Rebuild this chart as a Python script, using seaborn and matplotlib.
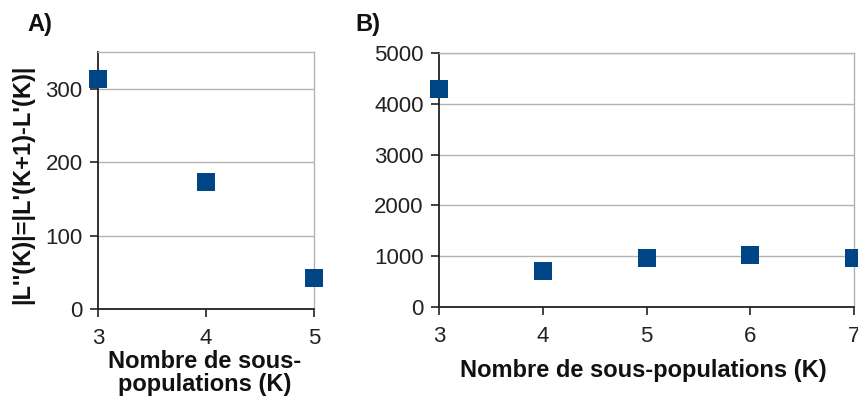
import matplotlib
matplotlib.use("Agg")
import matplotlib.pyplot as plt
import seaborn as sns
import pandas as pd

# Panel A: second-order difference of the log-likelihood
k_a = [3, 4, 5]
delta_a = [313, 173, 42]

# Panel B: delta K statistic
k_b = [3, 4, 5, 6, 7]
delta_b = [4300, 713, 955, 1022, 955]

blue = "#004586"
grid_grey = "#b3b3b3"

sns.set_theme(style="white")
plt.rcParams["font.family"] = ["Liberation Sans", "DejaVu Sans"]

fig = plt.figure(figsize=(8.58, 3.96), dpi=100)
ax_a = fig.add_axes([98 / 858, 1 - 309 / 396, (314 - 98) / 858, (309 - 52) / 396])
ax_b = fig.add_axes([439 / 858, 1 - 307 / 396, (854 - 439) / 858, (307 - 53) / 396])

df_a = pd.DataFrame({"K": k_a, "val": delta_a})
df_b = pd.DataFrame({"K": k_b, "val": delta_b})

for ax, df in ((ax_a, df_a), (ax_b, df_b)):
    sns.scatterplot(data=df, x="K", y="val", ax=ax, marker="s", s=150,
                    color=blue, linewidth=0, clip_on=False, zorder=5)
    ax.set_xlabel("")
    ax.set_ylabel("")
    ax.yaxis.grid(True, color=grid_grey, linewidth=1)
    ax.set_axisbelow(True)
    for side in ("top", "right"):
        ax.spines[side].set_color(grid_grey)
        ax.spines[side].set_linewidth(1)
    for side in ("left", "bottom"):
        ax.spines[side].set_color("#222222")
        ax.spines[side].set_linewidth(1.3)
    ax.tick_params(axis="both", which="both", direction="out", length=6,
                   width=1.2, color="#222222", labelsize=16, labelcolor="#222222",
                   bottom=True, left=True)
    ax.tick_params(axis="x", pad=8)
    ax.tick_params(axis="y", pad=5)

ax_a.set_xlim(3, 5)
ax_a.set_ylim(0, 350)
ax_a.set_xticks(k_a)
ax_a.set_yticks([0, 100, 200, 300])

ax_b.set_xlim(3, 7)
ax_b.set_ylim(0, 5000)
ax_b.set_xticks(k_b)
ax_b.set_yticks([0, 1000, 2000, 3000, 4000, 5000])

fig.text(23 / 858, 1 - 184 / 396, "|L''(K)|=|L'(K+1)-L'(K)|", rotation=90,
         ha="center", va="center", fontsize=17, fontweight="bold", color="#111111")
fig.text(205 / 858, 1 - 373 / 396, "Nombre de sous-\npopulations (K)",
         ha="center", va="center", fontsize=17, fontweight="bold",
         color="#111111", linespacing=0.95)
fig.text(643 / 858, 1 - 370 / 396, "Nombre de sous-populations (K)",
         ha="center", va="center", fontsize=17, fontweight="bold", color="#111111")

fig.text(27 / 858, 1 - 25 / 396, "A)", ha="left", va="center",
         fontsize=17, fontweight="bold", color="#111111")
fig.text(355 / 858, 1 - 24 / 396, "B)", ha="left", va="center",
         fontsize=17, fontweight="bold", color="#111111")

fig.savefig("out.png", dpi=100)
